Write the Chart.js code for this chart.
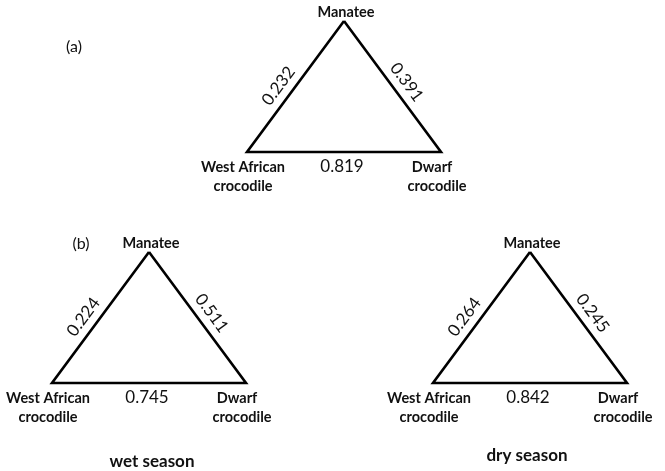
<!DOCTYPE html>
<html>
<head>
<meta charset="utf-8">
<script src="https://cdn.jsdelivr.net/npm/chart.js@4/dist/chart.umd.min.js"></script>
<style>
  html, body { margin: 0; padding: 0; background: #ffffff; }
  #c { display: block; }
</style>
</head>
<body>
<canvas id="c" width="665" height="471"></canvas>
<script>
// ---- data ----
const nodeNames = ['Manatee', 'West African\ncrocodile', 'Dwarf\ncrocodile'];
const panelTags = ['(a)', '(b)', ''];
const panelCaptions = ['', 'wet season', 'dry season'];
const manateeWestAfrican = [0.232, 0.224, 0.264];
const manateeDwarf = [0.391, 0.511, 0.245];
const westAfricanDwarf = [0.819, 0.745, 0.842];

// ---- layout (page units = pixels on the hidden linear scales) ----
const layout = {
  apex: [[344, 21], [149, 252], [530, 252]],
  halfBase: 97,
  height: 131,
  tagPos: [[74, 47], [81, 244], null],
  captionPos: [null, [152, 462], [527, 456]]
};

function triangle(i) {
  const [ax, ay] = layout.apex[i];
  return [
    { x: ax, y: ay },
    { x: ax - layout.halfBase, y: ay + layout.height },
    { x: ax + layout.halfBase, y: ay + layout.height },
    { x: ax, y: ay }
  ];
}

const datasets = layout.apex.map((_, i) => ({
  data: triangle(i),
  showLine: true,
  borderColor: '#000000',
  borderWidth: 2.6,
  borderJoinStyle: 'miter',
  pointRadius: 0,
  fill: false,
  tension: 0,
  clip: false
}));

const FONT = 'Lato, "Open Sans", "DejaVu Sans", sans-serif';

const labelPlugin = {
  id: 'triLabels',
  afterDatasetsDraw(chart) {
    const ctx = chart.ctx;
    const xs = chart.scales.x, ys = chart.scales.y;
    const P = (x, y) => [xs.getPixelForValue(x), ys.getPixelForValue(y)];
    ctx.save();
    ctx.fillStyle = '#111111';
    ctx.textAlign = 'center';
    ctx.textBaseline = 'middle';
    layout.apex.forEach((_, i) => {
      const v = triangle(i).map(p => P(p.x, p.y));
      const [top, bl, br] = v;
      // node names
      ctx.font = 'bold 14.5px ' + FONT;
      ctx.fillText(nodeNames[0], top[0] + 2, top[1] - 9);
      nodeNames[1].split('\n').forEach((line, k) => ctx.fillText(line, bl[0] - 4, bl[1] + 15 + k * 19));
      nodeNames[2].split('\n').forEach((line, k) => ctx.fillText(line, br[0] - 4 - (k === 0 ? 5 : 0), br[1] + 15 + k * 19));
      // bottom value
      ctx.font = '17px ' + FONT;
      ctx.fillText(westAfricanDwarf[i].toFixed(3), (bl[0] + br[0]) / 2 - 2, bl[1] + 15);
      // side values (rotated along the edges)
      const side = (a, b, t, val, outward) => {
        const px = a[0] + (b[0] - a[0]) * t, py = a[1] + (b[1] - a[1]) * t;
        let dx = b[0] - a[0], dy = b[1] - a[1];
        const len = Math.hypot(dx, dy);
        dx /= len; dy /= len;
        let nx = dy, ny = -dx;
        if (nx * outward[0] + ny * outward[1] < 0) { nx = -nx; ny = -ny; }
        ctx.save();
        ctx.translate(px + nx * 14, py + ny * 14);
        let ang = Math.atan2(dy, dx);
        if (ang > Math.PI / 2) ang -= Math.PI;
        if (ang < -Math.PI / 2) ang += Math.PI;
        ctx.rotate(ang);
        ctx.fillText(val.toFixed(3), 0, 0);
        ctx.restore();
      };
      side(top, bl, 0.56, manateeWestAfrican[i], [-1, -0.5]);
      side(top, br, 0.53, manateeDwarf[i], [1, -0.5]);
      // tags and captions
      if (panelTags[i] && layout.tagPos[i]) {
        ctx.font = '16px ' + FONT;
        const t = P(layout.tagPos[i][0], layout.tagPos[i][1]);
        ctx.fillText(panelTags[i], t[0], t[1]);
      }
      if (panelCaptions[i] && layout.captionPos[i]) {
        ctx.font = 'bold 17px ' + FONT;
        const c = P(layout.captionPos[i][0], layout.captionPos[i][1]);
        ctx.fillText(panelCaptions[i], c[0], c[1]);
      }
    });
    ctx.restore();
  }
};

new Chart(document.getElementById('c'), {
  type: 'scatter',
  data: { datasets },
  options: {
    responsive: false,
    animation: false,
    devicePixelRatio: 1,
    layout: { padding: 0 },
    plugins: { legend: { display: false }, tooltip: { enabled: false } },
    scales: {
      x: { type: 'linear', min: 0, max: 665, display: false },
      y: { type: 'linear', min: 0, max: 471, reverse: true, display: false }
    }
  },
  plugins: [labelPlugin]
});
</script>
</body>
</html>
